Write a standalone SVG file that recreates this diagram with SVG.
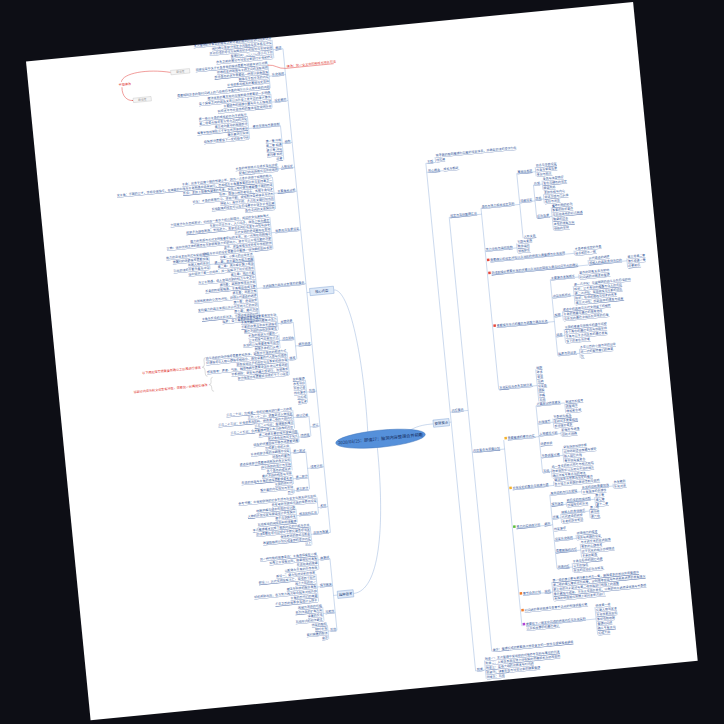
<svg xmlns="http://www.w3.org/2000/svg" width="724" height="724" viewBox="0 0 724 724">
<defs>
<style>
text{font-family:"Noto Sans CJK SC","Noto Sans",sans-serif}
.l,.r{font-size:3px;fill:#34569a;text-decoration:underline}
.l{text-anchor:end}
.k{fill:none;stroke:#7399cf;stroke-width:.35}
.bx{fill:#dde9f8;stroke:#6f97cf;stroke-width:.4}
.bt{font-size:3.4px;fill:#1d3d78;text-anchor:middle}
.red{fill:#e0302a;font-size:3.1px}
.rk{fill:none;stroke:#e0302a;stroke-width:.45}
.gb{fill:#f5f5f5;stroke:#b5b5b5;stroke-width:.35}
.gt{fill:#8a8a8a;font-size:2.8px;text-anchor:middle}
.br{fill:none;stroke:#aaaaaa;stroke-width:.4}
</style>
<marker id="ra" viewBox="0 0 6 6" refX="5" refY="3" markerWidth="3" markerHeight="3" orient="auto"><path d="M0 0L6 3L0 6z" fill="#e0302a"/></marker>
</defs>
<rect width="724" height="724" fill="#0d0e15"/>
<g transform="translate(26 61.5) rotate(-5.6)">
<rect x="0" y="0" width="610" height="662" fill="#ffffff"/>

<g id="connectors">
<path class="k" d="M304 402C307 330 300 257.4 284 257.4M312 418.5C312 500 300 561.4 274 561.4M347 404C356 400.4 362 400.4 370 400.4"/>
<path class="k" d="M257 12.4V498.4M257 257.4H260
M247 2.4V20.8M247 12.4H257M240.5 26.4V50.4M240.5 38.4H257M240.5 56V69.8M240.5 64.4H257
M247 88.4V122.8M247 106.4H257M215 75.8V98.8M215 88.4H246.3M240.5 128.8V133.4M240.5 131.4H257
M234 139V171.2M234 155.4H257M227.5 178.4V210.6M227.5 194.4H257
M207.5 215.4V279.8M207.5 248.4H257M163 210.8V224.6M163 220H206.8
M240.5 285.4V322.4M240.5 309.4H257M225 277.8V291.6M225 285.4H239.8M225 296.2V310M225 302.4H239.8M231.5 314.6V337.6M231.5 322.4H239.8
M247 344V367M247 356.4H257M247 380.4V400.4M247 391.4H257M231.5 373V391.4M231.5 380.4H246.3M234.7 396V405.2M234.7 400.4H246.3
M240.5 415.4V453.4M240.5 432.4H257M225 409.8V432.8M225 415.4H239.8M225 437.4V446.6M225 441.4H239.8M225 451.2V455.8M225 453.4H239.8
M247 462.2V478.4M247 472.4H257M225 471.4V485.2M225 478.4H246.3M237.5 490.2V508.6M237.5 498.4H257
M254 524.4V596.4M254 561.4H258M242 519.8V533.6M242 524.4H254M238.5 538.4V566M238.5 551.4H254M242 571.8V585.6M242 578.4H254M245 590.4V604.2M245 596.4H254"/>
<path class="k" d="M388 140.4V650.4M386 400.4H388
M397.8 135V140.4M388 140.4H397.8M388 149.4H405M406 196.4V632.4M388 390.4H406
M438.5 190.4V372.4M406 196.4H438.5M477.5 159.4V224.4M438.5 190.4H477.5M496.5 154.8V164M477.5 159.4H496.5M493 172.4V205.4M477.5 188.4H493
M502 168.8V178M493 172.4H502M502 182.6V191.8M493 187.4H502M508.5 196.4V219.4M493 205.4H508.5
M470.5 229V238.2M438.5 233.4H470.5M527 241.6V246.2M442.6 244.4H527M540 252.4V257M442.6 257.4H540M578.7 254.6V263.8M540.7 257H578.7
M500.5 268.4V344.4M442.6 310.4H500.5M529.3 265.8V270.4M500.5 268.4H529.3M522.7 277V295.4M500.5 286.4H522.7M509.5 301V310.2M500.5 305.4H509.5M509.5 318.8V332.6M500.5 325.4H509.5M522.7 340V349.2M500.5 344.4H522.7
M477.2 356.2V388.4M438.5 372.4H477.2M406 632.4H407
M438.5 423.4V610.4M406 432.4H438.5M474 392.4V459.4M442.6 423.4H474M502.8 393V402.2M474 392.4H502.8M489.6 406.8V416M474 410.4H489.6M496.2 420.6V425.2M474 422.4H496.2M496.2 437.8V451.6M474 444.4H496.2M483 456.2V465.4M474 459.4H483
M484 469.4V474M442.6 473.4H484M479 482.4V556.4M442.6 512.4H479
M511 479.8V484.4M479 482.4H511M543 477.4V482M511.7 479.8H543M494.6 491.2V495.8M479 493.4H494.6M523.5 488.9V498.1M495.3 491.2H523.5
M488 502.4V511.6M479 506.4H488M517 500.4V509.6M488.7 502.4H517M501.2 524.8V529.4M479 528.4H501.2M504.5 534V547.8M479 540.4H504.5M494.6 552.4V561.6M479 556.4H494.6
M472.5 569.4V587.8M442.6 579.4H472.5M513 598.6V626.2M442.6 610.4H513M397.8 640.8V659.2M388 650.4H397.8"/>
<path class="rk" d="M143 25C120 19 95 21 93 29.5M93 35C92 44 97 49.2 102.6 49.2" marker-end="url(#ra)"/>
<path class="rk" d="M240 27.2C248 27.2 250 32.2 258 32.2H306"/>
<path class="br" d="M150 312q-2 0-2 2.5v4q0 3-2.5 3q2.5 0 2.5 3v4q0 2.5 2 2.5M155 332.5q-2 0-2 2v2.5q0 2.5-2.5 2.5q2.5 0 2.5 2.5v2.5q0 2 2 2"/>
</g>

<g id="center">
<ellipse cx="316" cy="410" rx="45" ry="8.5" fill="#5590da" stroke="#3f73ba" stroke-width=".5"/>
<text x="316" y="411.5" font-size="4.2" fill="#13295a" text-anchor="middle">2020/03/25：颜值27：脑洞内容整理合并前瞻</text>
</g>
<g id="node-A"><rect class="bx" x="260" y="253.6" width="24" height="7.2"/><text class="bt" x="272" y="258.6">核心内容</text></g>
<g id="node-B"><rect class="bx" x="258" y="557.6" width="16" height="7.2"/><text class="bt" x="266" y="562.6">延伸思考</text></g>
<g id="node-C"><rect class="bx" x="370" y="396.6" width="16" height="7.2"/><text class="bt" x="378" y="401.6">整理要点</text></g>

<g id="left-labels"><text class="l">
<tspan x="255.5" y="12">概述</tspan><tspan x="255.5" y="38">补充说明</tspan><tspan x="255.5" y="64">设定细节</tspan><tspan x="255.5" y="106">结构</tspan><tspan x="255.5" y="131">人物设定</tspan><tspan x="255.5" y="155">主要角色分析</tspan><tspan x="255.5" y="194">世界观与背景设定</tspan><tspan x="255.5" y="248">主线剧情大纲与分支情节的整合</tspan><tspan x="255.5" y="309">细节修改</tspan><tspan x="255.5" y="356">其他</tspan><tspan x="255.5" y="391">修订</tspan><tspan x="255.5" y="432">续写计划</tspan><tspan x="255.5" y="472">素材</tspan><tspan x="255.5" y="498">总结与展望</tspan>
<tspan x="253.3" y="524">故事线</tspan><tspan x="253.3" y="551">情节推演</tspan><tspan x="253.3" y="578">可能性</tspan><tspan x="253.3" y="596">其他</tspan>
</text></g>

<g id="n1"><text class="l"><tspan x="246.3" y="2">本次整理的主要目的是将之前零散的脑洞内容进行归类合并</tspan><tspan x="246.3" y="6.6">同时确认各部分设定之间是否存在矛盾与冲突</tspan><tspan x="246.3" y="11.2">并对后续的写作方向做出初步的规划与安排说明</tspan><tspan x="246.3" y="15.8">整理时间：二〇二〇年三月下旬</tspan><tspan x="246.3" y="20.4">参考之前的笔记与讨论记录进行补充和修正</tspan></text></g>

<g id="n2"><text class="l"><tspan x="240" y="26">旧版设定中关于主角身世的描述需要与新版本进行对照</tspan><tspan x="240" y="30.6">新增的支线剧情与主线之间的关联说明</tspan><tspan x="240" y="35.2">部分角色的名字需要统一修改以避免混淆</tspan><tspan x="240" y="39.8">删除与主题无关的内容</tspan><tspan x="240" y="44.4">补充世界观相关的基础设定资料</tspan><tspan x="240" y="50">需要特别注意的是时间线上的几处前后矛盾的地方以及人物年龄的问题</tspan></text>
<rect class="gb" x="143" y="23" width="19" height="4.4"/><text class="gt" x="152.5" y="26.2">原设定</text>
<rect class="gb" x="103" y="47" width="18" height="4.4"/><text class="gt" x="112" y="50.2">新设定</text>
<text class="red" x="90" y="33.5">关联修改</text>
<text class="red" x="259" y="31.4">修改：统一全文中的称呼与地名写法</text></g>

<g id="n3"><text class="l"><tspan x="240" y="55.6">魔法体系的基本规则与限制条件需要进一步明确</tspan><tspan x="240" y="60.2">各个国家之间的政治关系以及历史上发生过的重大事件</tspan><tspan x="240" y="64.8">主要城市的地理位置与风土人情描写</tspan><tspan x="240" y="69.4">科技水平与社会结构的整体设定说明补充</tspan></text></g>

<g id="n4"><text class="l"><tspan x="246.3" y="88">章节安排与节奏控制</tspan><tspan x="246.3" y="104">第一章 开端</tspan><tspan x="246.3" y="108.6">第二章 相遇</tspan><tspan x="246.3" y="113.2">第三章 冲突</tspan><tspan x="246.3" y="117.8">第四章 转折</tspan><tspan x="246.3" y="122.4">终章</tspan>
<tspan x="214.3" y="75.4">第一卷以主角的成长经历为主线展开</tspan><tspan x="214.3" y="80">第二卷重点描写各方势力之间的冲突</tspan><tspan x="214.3" y="84.6">第三卷为全书的高潮部分</tspan><tspan x="214.3" y="89.2">每章字数控制在三千字左右并保持更新</tspan><tspan x="214.3" y="93.8">番外篇另行安排</tspan><tspan x="214.3" y="98.4">结尾部分需要留下一定的想象空间</tspan></text></g>

<g id="n5"><text class="l"><tspan x="240" y="128.4">主角的性格特点与成长变化过程</tspan><tspan x="240" y="133">配角们的出场顺序与作用说明</tspan></text></g>

<g id="n6"><text class="l"><tspan x="233.3" y="138.6">主角：出身于边境小镇的普通少年，因为一次意外获得了特殊的能力</tspan><tspan x="233.3" y="143.2">女主角：王国的公主，性格坚强独立，在故事的中段与主角相遇并结伴同行，后来成为主角最重要的伙伴与支持者之一</tspan><tspan x="233.3" y="147.8">反派：表面上是德高望重的长老，实际上暗中策划着颠覆王国的阴谋</tspan><tspan x="233.3" y="152.4">导师：隐居山林的老剑士，传授主角剑术</tspan><tspan x="233.3" y="157">好友：主角的青梅竹马，性格开朗，擅长制作各种道具与药剂</tspan><tspan x="233.3" y="161.6">神秘人：身份不明，多次在关键时刻出现</tspan><tspan x="233.3" y="166.2">其他配角的设定可以在后续章节中逐步补充完善</tspan><tspan x="233.3" y="170.8">角色之间的关系图另附</tspan></text></g>

<g id="n7"><text class="l"><tspan x="226.8" y="178">大陆被分为东西两部分，中间由一条巨大的山脉隔开，两边的文化差异很大</tspan><tspan x="226.8" y="182.6">东部以农业为主，人口众多，政治上较为稳定</tspan><tspan x="226.8" y="187.2">西部多为游牧民族，崇尚武力，各部落之间经常发生冲突与战争</tspan><tspan x="226.8" y="191.8">古代文明的遗迹散布在各地</tspan><tspan x="226.8" y="196.4">魔力的来源与古代文明有着密切的关系，这一点将在后期揭示</tspan><tspan x="226.8" y="201">宗教：信仰光明之神的教会在东部拥有极大的影响力，甚至可以干预王室的决策</tspan><tspan x="226.8" y="205.6">货币、度量衡等设定参考中世纪欧洲</tspan><tspan x="226.8" y="210.2">历法与节日的设定需要另外整理一份详细的资料表格</tspan></text></g>

<g id="n8"><text class="l"><tspan x="206.8" y="215">序章：小镇上的日常生活</tspan><tspan x="206.8" y="219.6">第一幕：意外事件与能力觉醒</tspan><tspan x="206.8" y="224.2">第二幕：离开家乡踏上旅途</tspan><tspan x="206.8" y="228.8">途中结识了第一位同伴，并一起解决了村庄的危机</tspan><tspan x="206.8" y="233.4">第三幕：抵达王都</tspan><tspan x="206.8" y="238">与公主相遇，卷入宫廷内部的权力斗争之中</tspan><tspan x="206.8" y="242.6">第四幕：真相逐渐浮出水面</tspan><tspan x="206.8" y="247.2">长老的阴谋被揭露，主角被迫逃离王都</tspan><tspan x="206.8" y="251.8">第五幕：西部之旅</tspan><tspan x="206.8" y="256.4">与游牧民族的交流与冲突，获得古代遗迹的线索</tspan><tspan x="206.8" y="261">第六幕：遗迹探索</tspan><tspan x="206.8" y="265.6">发现魔力的真正来源以及古代文明灭亡的原因</tspan><tspan x="206.8" y="270.2">第七幕：最终决战</tspan><tspan x="206.8" y="274.8">主角与反派的正面对决，王国迎来新的时代</tspan><tspan x="206.8" y="279.4">尾声：各个角色的结局交代</tspan>
<tspan x="162.3" y="210.4">能力的具体表现形式与使用限制</tspan><tspan x="162.3" y="215">觉醒时的场景描写需要加强</tspan><tspan x="162.3" y="219.6">周围人物的反应</tspan><tspan x="162.3" y="224.2">引出后续的主要矛盾与冲突</tspan></text></g>

<g id="n9"><text class="l"><tspan x="239.8" y="285">关键场景</tspan><tspan x="239.8" y="302">对白润色</tspan><tspan x="239.8" y="322">描写</tspan>
<tspan x="224.3" y="277.4">开篇的场景描写需要更加生动</tspan><tspan x="224.3" y="282">主角觉醒的瞬间要有冲击力</tspan><tspan x="224.3" y="286.6">王都的夜景与市井生活描写</tspan><tspan x="224.3" y="291.2">最终决战的战场氛围营造</tspan>
<tspan x="224.3" y="295.8">主角的说话方式要统一</tspan><tspan x="224.3" y="300.4">公主的语气应更加正式</tspan><tspan x="224.3" y="305">反派的台词需要更有压迫感</tspan><tspan x="224.3" y="309.6">删除多余的口头禅</tspan>
<tspan x="230.8" y="314.2">战斗场面的动作描写需要更加具体，避免过于笼统的叙述方式</tspan><tspan x="230.8" y="318.8">环境描写与人物心理描写相结合，增加读者的代入感与沉浸感</tspan><tspan x="230.8" y="323.4">避免使用过多的形容词与重复的修饰语</tspan><tspan x="230.8" y="328">感官描写：声音、气味、触感等细节需要适当补充以丰富画面</tspan><tspan x="230.8" y="332.6">节奏把控：紧张与舒缓交替进行，张弛有度</tspan><tspan x="230.8" y="337.2">部分段落过长需要拆分成若干个小段落</tspan></text>
<text class="red" x="144" y="322.7" text-anchor="end">以下两处描写需要重新确认之后再进行修改</text>
<text class="red" x="149" y="340.7" text-anchor="end">这部分内容与前文设定有冲突，需要统一后再提交修改</text></g>

<g id="n10"><text class="l"><tspan x="246.3" y="343.6">资料整理</tspan><tspan x="246.3" y="348.2">参考书目</tspan><tspan x="246.3" y="352.8">灵感记录</tspan><tspan x="246.3" y="357.4">待办事项</tspan><tspan x="246.3" y="362">已完成</tspan><tspan x="246.3" y="366.6">备忘录</tspan></text></g>

<g id="n11"><text class="l"><tspan x="246.3" y="380">修订记录</tspan><tspan x="246.3" y="400">待修改</tspan>
<tspan x="230.8" y="372.6">三月二十日：完成第一卷的初稿并进行第一次修改</tspan><tspan x="230.8" y="377.2">三月二十二日：调整部分人物设定</tspan><tspan x="230.8" y="381.8">三月二十三日：补充世界观资料，修改第二卷的大纲内容</tspan><tspan x="230.8" y="386.4">三月二十四日：整理脑洞笔记</tspan><tspan x="230.8" y="391">三月二十五日：合并整理并提交本次修改的内容</tspan>
<tspan x="234" y="395.6">第二卷第五章的情节逻辑问题</tspan><tspan x="234" y="400.2">部分角色出场过于突兀</tspan><tspan x="234" y="404.8">结尾的伏笔回收不够自然需要调整</tspan></text></g>

<g id="n12"><text class="l"><tspan x="239.8" y="415">第一部分</tspan><tspan x="239.8" y="441">第二部分</tspan><tspan x="239.8" y="453">第三部分</tspan>
<tspan x="224.3" y="409.4">完成第三卷的大纲</tspan><tspan x="224.3" y="414">补充西部之旅的详细情节设定</tspan><tspan x="224.3" y="418.6">新角色的登场</tspan><tspan x="224.3" y="423.2">遗迹探索部分需要查阅相关的考古资料</tspan><tspan x="224.3" y="427.8">战斗场面的设计与安排</tspan><tspan x="224.3" y="432.4">各个角色的成长线</tspan>
<tspan x="224.3" y="437">最终决战的构思与安排</tspan><tspan x="224.3" y="441.6">反派的结局与主角的选择需要慎重考虑</tspan><tspan x="224.3" y="446.2">王国的新时代</tspan><tspan x="224.3" y="450.8">番外篇的内容规划与安排</tspan><tspan x="224.3" y="455.4">后记</tspan></text></g>

<g id="n13"><text class="l"><tspan x="246.3" y="461.8">参考书籍：中世纪欧洲的社会生活与历史文化相关研究资料</tspan><tspan x="246.3" y="466.4">参考电影与游戏作品的世界观设定</tspan><tspan x="246.3" y="478">相关资料汇总</tspan>
<tspan x="224.3" y="471">地图草稿与城市布局的设计图</tspan><tspan x="224.3" y="475.6">人物的外貌设定与服装设计参考图片</tspan><tspan x="224.3" y="480.2">音乐与氛围参考</tspan><tspan x="224.3" y="484.8">其他有用的网络资料链接整理</tspan></text></g>

<g id="n14"><text class="l"><tspan x="236.8" y="489.8">本次整理基本完成了脑洞内容的归类与合并</tspan><tspan x="236.8" y="494.4">后续需要在写作过程中不断完善各项设定</tspan><tspan x="236.8" y="499">保持更新的频率与质量</tspan><tspan x="236.8" y="503.6">希望能够按计划完成全部的写作内容</tspan><tspan x="236.8" y="508.2">以上</tspan></text></g>

<g id="b-children"><text class="l"><tspan x="241.3" y="519.4">另一种可能的故事走向：主角选择留在小镇</tspan><tspan x="241.3" y="524">如果公主没有出现，故事将如何发展</tspan><tspan x="241.3" y="528.6">反派视角的故事</tspan><tspan x="241.3" y="533.2">以配角为主角的外传构思</tspan>
<tspan x="237.8" y="538">假设一：魔力突然消失的世界</tspan><tspan x="237.8" y="542.6">假设二：古代文明没有灭亡，延续到了现代</tspan><tspan x="237.8" y="547.2">两个大陆的统一</tspan><tspan x="237.8" y="551.8">魔法与科技的融合发展</tspan><tspan x="237.8" y="556.4">新的威胁出现，各方势力再次联合起来对抗外敌</tspan><tspan x="237.8" y="561">主角的后代们的故事</tspan><tspan x="237.8" y="565.6">千年之后的世界会变成什么样子</tspan>
<tspan x="241.3" y="571.4">改编为漫画的可能</tspan><tspan x="241.3" y="576">系列作品的扩展方向</tspan><tspan x="241.3" y="580.6">读者的反馈</tspan><tspan x="241.3" y="585.2">其他形式的创作尝试</tspan>
<tspan x="244.3" y="590">待定的脑洞</tspan><tspan x="244.3" y="594.6">随时补充</tspan><tspan x="244.3" y="599.2">暂时搁置的想法</tspan><tspan x="244.3" y="603.8">备注</tspan></text></g>

<g id="right-top"><text class="r"><tspan x="389.5" y="140">主题</tspan><tspan x="389.5" y="149">核心概念</tspan><tspan x="389.5" y="390">内容整合</tspan><tspan x="389.5" y="650">附录</tspan>
<tspan x="398.5" y="134.6">将零散的脑洞整理为完整的设定体系，并确定后续的写作方向</tspan><tspan x="398.5" y="139.2">待完善</tspan><tspan x="405" y="149">成长与羁绊</tspan>
<tspan x="407" y="196">设定与资料整理汇总</tspan><tspan x="407" y="432">内容整合与调整计划</tspan><tspan x="407" y="632">备注：整理完成后需要再次检查全文的一致性与逻辑是否通顺</tspan></text></g>

<g id="rd1"><text class="r"><tspan x="439.2" y="190">角色与势力相关设定资料</tspan><tspan x="439.2" y="233">势力分布与组织结构</tspan><tspan x="439.2" y="372">补充资料与参考文献列表</tspan>
<tspan x="478.2" y="159">基础信息项</tspan><tspan x="478.2" y="188">详细设定</tspan><tspan x="478.2" y="224">人际关系</tspan>
<tspan x="497.2" y="154.4">姓名与年龄设定</tspan><tspan x="497.2" y="159">出身与家庭背景</tspan><tspan x="497.2" y="163.6">身份与职业</tspan>
<tspan x="493.7" y="172">外貌</tspan><tspan x="493.7" y="187">性格</tspan><tspan x="493.7" y="205">经历背景</tspan>
<tspan x="502.7" y="168.4">身高与体型特征</tspan><tspan x="502.7" y="173">发色与瞳色的设定</tspan><tspan x="502.7" y="177.6">服装风格</tspan><tspan x="502.7" y="182.2">表面性格与内心</tspan><tspan x="502.7" y="186.8">说话习惯与口头禅</tspan><tspan x="502.7" y="191.4">喜好与厌恶</tspan>
<tspan x="509.2" y="196">童年时期的经历</tspan><tspan x="509.2" y="200.6">重要的转折事件</tspan><tspan x="509.2" y="205.2">与其他角色的初次相遇</tspan><tspan x="509.2" y="209.8">隐藏的过去</tspan><tspan x="509.2" y="214.4">未来的发展方向</tspan><tspan x="509.2" y="219">结局的安排</tspan>
<tspan x="471.2" y="228.6">王国与贵族</tspan><tspan x="471.2" y="233.2">教会组织</tspan><tspan x="471.2" y="237.8">游牧部落</tspan>
<tspan x="442.6" y="244">需要确认的设定冲突以及对应的修改方案整理与补充说明</tspan><tspan x="527.7" y="241.2">主角年龄设定的矛盾</tspan><tspan x="527.7" y="245.8">地名前后不一致</tspan>
<tspan x="442.6" y="257">后续剧情中需要补充的伏笔以及对应的回收方案与时间节点的确认</tspan><tspan x="540.7" y="252">古代遗迹的线索</tspan><tspan x="540.7" y="256.6">神秘人的真实身份与目的</tspan><tspan x="579.4" y="254.2">第三卷第二章</tspan><tspan x="579.4" y="258.8">第五卷第一章</tspan><tspan x="579.4" y="263.4">终章前后</tspan>
<tspan x="442.6" y="310">重要情节节点的整合与调整方案及补充</tspan>
<tspan x="501.2" y="268">主要事件发展顺序</tspan><tspan x="501.2" y="286">冲突与转折点</tspan><tspan x="501.2" y="305">高潮</tspan><tspan x="501.2" y="325">结局</tspan><tspan x="501.2" y="344">尾声与后日谈</tspan>
<tspan x="530" y="265.4">事件的因果关系与影响</tspan><tspan x="530" y="270">时间线的对照表格整理</tspan>
<tspan x="523.4" y="276.6">第一次冲突：与盗贼团的战斗及其后续影响</tspan><tspan x="523.4" y="281.2">转折：公主身份的揭露与众人的反应</tspan><tspan x="523.4" y="285.8">第二次冲突：宫廷政变与王都的动乱</tspan><tspan x="523.4" y="290.4">转折：导师的牺牲与剑术的传承</tspan><tspan x="523.4" y="295">第三次冲突：西部战争的爆发与结束</tspan>
<tspan x="510.2" y="300.6">遗迹中的真相与古代文明留下的秘密</tspan><tspan x="510.2" y="305.2">主角的觉醒与最终的艰难选择</tspan><tspan x="510.2" y="309.8">与反派的最终决战及其带来的后果</tspan>
<tspan x="510.2" y="318.4">王国的重建与新秩序的建立过程</tspan><tspan x="510.2" y="323">各个角色的最终去向与结局安排</tspan><tspan x="510.2" y="327.6">主角与公主之间关系的最终发展</tspan><tspan x="510.2" y="332.2">留下的悬念与伏笔</tspan>
<tspan x="523.4" y="339.6">多年以后的小镇与新的日常</tspan><tspan x="523.4" y="344.2">新一代的冒险者们的故事</tspan><tspan x="523.4" y="348.8">完</tspan>
<tspan x="477.9" y="355.8">地图</tspan><tspan x="477.9" y="360.4">年表</tspan><tspan x="477.9" y="365">家谱</tspan><tspan x="477.9" y="369.6">词典</tspan><tspan x="477.9" y="374.2">设定集</tspan><tspan x="477.9" y="378.8">插图</tspan><tspan x="477.9" y="383.4">草稿</tspan><tspan x="477.9" y="388">其他</tspan></text>
<rect x="439.4" y="241.3" width="2.5" height="2.5" fill="#e5483d"/><rect x="439.4" y="254.3" width="2.5" height="2.5" fill="#e5483d"/><rect x="439.4" y="307.3" width="2.5" height="2.5" fill="#e5483d"/></g>

<g id="rd2"><text class="r"><tspan x="442.6" y="423">需要整理的章节内容</tspan>
<tspan x="474.7" y="392">开篇部分修改建议</tspan><tspan x="474.7" y="410">中段情节</tspan><tspan x="474.7" y="422">人物塑造方面</tspan><tspan x="474.7" y="432">场景转换</tspan><tspan x="474.7" y="444">节奏调整方案</tspan><tspan x="474.7" y="459">其他</tspan>
<tspan x="503.5" y="392.6">删减冗长描写</tspan><tspan x="503.5" y="397.2">调整顺序</tspan><tspan x="503.5" y="401.8">增加悬念感</tspan>
<tspan x="490.3" y="406.4">节奏稍显拖沓</tspan><tspan x="490.3" y="411">支线过多需要精简</tspan><tspan x="490.3" y="415.6">部分情节重复</tspan>
<tspan x="496.9" y="420.2">配角形象单薄</tspan><tspan x="496.9" y="424.8">动机不明确</tspan>
<tspan x="496.9" y="437.4">紧张场面加快节奏</tspan><tspan x="496.9" y="442">日常场面适当放缓与铺垫</tspan><tspan x="496.9" y="446.6">插入回忆片段</tspan><tspan x="496.9" y="451.2">章节结尾留悬念</tspan>
<tspan x="483.7" y="455.8">统一全文的标点符号与格式规范</tspan><tspan x="483.7" y="460.4">检查错别字以及用词不当的地方</tspan><tspan x="483.7" y="465">确认所有专有名词的写法</tspan>
<tspan x="442.6" y="473">补充设定的整合与梳理方案</tspan><tspan x="484.7" y="469">魔法体系与世界观设定的整合</tspan><tspan x="484.7" y="473.6">各方势力关系图的重新绘制与说明</tspan>
<tspan x="442.6" y="512">重点内容修改计划</tspan><tspan x="470.8" y="512">细节</tspan>
<tspan x="479.7" y="482">角色动机与行为逻辑</tspan><tspan x="511.7" y="479.4">反派的动机需要加强</tspan><tspan x="511.7" y="484">主角选择的合理性</tspan><tspan x="543.7" y="477">参考案例</tspan><tspan x="543.7" y="481.6">补充对话</tspan>
<tspan x="479.7" y="493">情节连贯</tspan><tspan x="495.3" y="490.8">前后文的衔接问题</tspan><tspan x="495.3" y="495.4">过渡段落的补充</tspan><tspan x="524.2" y="488.5">第三章</tspan><tspan x="524.2" y="493.1">第七章</tspan><tspan x="524.2" y="497.7">第十二章</tspan>
<tspan x="479.7" y="506">伏笔</tspan><tspan x="488.7" y="502">神秘人的身份暗示</tspan><tspan x="488.7" y="506.6">古代遗迹的线索</tspan><tspan x="488.7" y="511.2">长老的异常举动</tspan><tspan x="517.7" y="500">第二卷</tspan><tspan x="517.7" y="504.6">第四卷</tspan><tspan x="517.7" y="509.2">第六卷</tspan>
<tspan x="479.7" y="518">待定事项</tspan>
<tspan x="479.7" y="528">设定补充说明</tspan><tspan x="501.9" y="524.4">新增地点的描写</tspan><tspan x="501.9" y="529">道具与武器的设定</tspan>
<tspan x="479.7" y="540">需要删除的内容</tspan><tspan x="505.2" y="533.6">与主线无关的支线剧情</tspan><tspan x="505.2" y="538.2">重复的心理描写</tspan><tspan x="505.2" y="542.8">过于冗长的战斗过程描述</tspan><tspan x="505.2" y="547.4">多余的配角</tspan>
<tspan x="479.7" y="556">新增内容</tspan><tspan x="495.3" y="552">主角与导师的回忆场景</tspan><tspan x="495.3" y="556.6">公主的独白</tspan><tspan x="495.3" y="561.2">反派的过去经历与转变</tspan>
<tspan x="442.6" y="579">章节合并计划</tspan><tspan x="464.2" y="579">说明</tspan>
<tspan x="473.2" y="569">第一卷的第三章与第四章合并为一章，删除重复的部分并调整顺序</tspan><tspan x="473.2" y="573.6">第二卷的第七章拆分为两章，分别描写宫廷与市井两条线索的发展情况</tspan><tspan x="473.2" y="578.2">第三卷的开头部分与第二卷结尾进行衔接上的调整</tspan><tspan x="473.2" y="582.8">番外篇独立成册，不与正文混合发布，以免影响主线阅读体验与节奏感</tspan><tspan x="473.2" y="587.4">具体的修改顺序按照上述列表依次进行</tspan>
<tspan x="442.6" y="596">时间线的重新梳理与各章节之间的衔接调整方案</tspan>
<tspan x="442.6" y="610">需要在下一版本中完成的修改内容与补充资料</tspan><tspan x="442.6" y="614.4">以及相关事项的最终确认</tspan>
<tspan x="513.7" y="598.2">修改第一卷</tspan><tspan x="513.7" y="602.8">完善人物设定表</tspan><tspan x="513.7" y="607.4">补充世界观资料</tspan><tspan x="513.7" y="612">重新绘制地图</tspan><tspan x="513.7" y="616.6">整理时间线</tspan><tspan x="513.7" y="621.2">确认专有名词</tspan><tspan x="513.7" y="625.8">完成大纲</tspan></text>
<rect x="439.4" y="420.3" width="2.5" height="2.5" fill="#f3b22d"/><rect x="439.4" y="470.3" width="2.5" height="2.5" fill="#f3b22d"/><rect x="439.4" y="509.3" width="2.5" height="2.5" fill="#5bbf3a"/><rect x="439.4" y="576.3" width="2.5" height="2.5" fill="#f27b28"/><rect x="439.4" y="593.3" width="2.5" height="2.5" fill="#f27b28"/><rect x="439.4" y="607.3" width="2.5" height="2.5" fill="#b044d6"/></g>

<g id="appendix"><text class="r"><tspan x="398.5" y="640.4">附录一：本次整理中使用到的所有参考资料与笔记的列表</tspan><tspan x="398.5" y="645">附录二：人物关系图与势力分布图的草稿版本及修改说明</tspan><tspan x="398.5" y="649.6">附录三：各卷大纲的对照表与时间线</tspan><tspan x="398.5" y="654.2">附录四：读者反馈与讨论记录的摘要整理</tspan><tspan x="398.5" y="658.8">附录五：其他</tspan></text></g>
</g>
</svg>
